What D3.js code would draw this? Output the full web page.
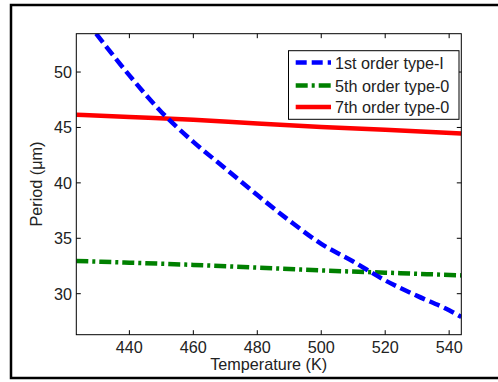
<!DOCTYPE html>
<html><head><meta charset="utf-8">
<script src="https://cdn.jsdelivr.net/npm/d3@7"></script>
<style>body{margin:0;background:#fff}svg{display:block}text{font-family:"Liberation Sans",Arial,sans-serif;fill:#222}</style>
</head><body>
<svg id="c" width="498" height="382"></svg>
<script>
const seriesNames = ["1st order type-I", "5th order type-0", "7th order type-0"];
const tempBlue = [429.6, 440, 450, 460, 470, 480, 490, 500, 510, 520, 530, 540, 543.8];
const periodBlue = [53.46, 49.7, 46.4, 43.7, 41.3, 38.9, 36.6, 34.5, 32.9, 31.2, 29.8, 28.5, 27.9];
const tempGreen = [423.4, 440, 460, 480, 500, 520, 543.8];
const periodGreen = [32.95, 32.8, 32.6, 32.35, 32.1, 31.9, 31.65];
const tempRed = [423.4, 440, 460, 480, 500, 520, 543.8];
const periodRed = [46.15, 45.95, 45.7, 45.35, 45.05, 44.8, 44.45];
const xTicks = [440, 460, 480, 500, 520, 540];
const yTicks = [30, 35, 40, 45, 50];

const svg = d3.select("#c");
const L = 76.3, R = 461.3, T = 33.7, B = 334.7;
const FS = 16.2;
const x = d3.scaleLinear().domain([423.4, 543.8]).range([L, R]);
const y = d3.scaleLinear().domain([26.3, 53.46]).range([B, T]);

// outer frame
svg.append("rect").attr("x", 11).attr("y", 5).attr("width", 500).attr("height", 373)
  .attr("fill", "none").attr("stroke", "#000").attr("stroke-width", 2.5);

const clip = svg.append("defs").append("clipPath").attr("id", "pc");
clip.append("rect").attr("x", L).attr("y", T).attr("width", R - L).attr("height", B - T);

const line = d3.line().x(d => x(d[0])).y(d => y(d[1])).curve(d3.curveMonotoneX);
const g = svg.append("g").attr("clip-path", "url(#pc)");
const series = [
  {t: tempRed, p: periodRed, color: "#ff0000", dash: null},
  {t: tempGreen, p: periodGreen, color: "#008000", dash: "12,4,3,4"},
  {t: tempBlue, p: periodBlue, color: "#0000ff", dash: "11,5"}
];
series.forEach(s => {
  g.append("path").datum(s.t.map((t, i) => [t, s.p[i]]))
    .attr("d", line).attr("fill", "none").attr("stroke", s.color)
    .attr("stroke-width", 4.5).attr("stroke-dasharray", s.dash);
});

// axes with inward ticks on all sides
const ax = svg.append("g").attr("stroke", "#000").attr("stroke-width", 1);
ax.append("rect").attr("x", L).attr("y", T).attr("width", R - L).attr("height", B - T).attr("fill", "none");
xTicks.forEach(v => {
  ax.append("line").attr("x1", x(v)).attr("x2", x(v)).attr("y1", B).attr("y2", B - 4.5);
  ax.append("line").attr("x1", x(v)).attr("x2", x(v)).attr("y1", T).attr("y2", T + 4.5);
  svg.append("text").attr("x", x(v)).attr("y", 352.5).attr("text-anchor", "middle")
    .attr("font-size", FS).text(v);
});
yTicks.forEach(v => {
  ax.append("line").attr("x1", L).attr("x2", L + 4.5).attr("y1", y(v)).attr("y2", y(v));
  ax.append("line").attr("x1", R).attr("x2", R - 4.5).attr("y1", y(v)).attr("y2", y(v));
  svg.append("text").attr("x", 72).attr("y", y(v) + 6).attr("text-anchor", "end")
    .attr("font-size", FS).text(v);
});

svg.append("text").attr("x", 268.7).attr("y", 369.5).attr("text-anchor", "middle")
  .attr("font-size", FS).text("Temperature (K)");
svg.append("text").attr("transform", "translate(42,184) rotate(-90)").attr("text-anchor", "middle")
  .attr("font-size", FS).text("Period (μm)");

// legend
const lg = svg.append("g");
lg.append("rect").attr("x", 288.5).attr("y", 50.7).attr("width", 170.5).attr("height", 68.6)
  .attr("fill", "#fff").attr("stroke", "#000").attr("stroke-width", 1);
const legendOrder = [series[2], series[1], series[0]];
const rowsY = [62.5, 85.5, 107];
legendOrder.forEach((s, i) => {
  lg.append("line").attr("x1", 295.7).attr("x2", 331).attr("y1", rowsY[i]).attr("y2", rowsY[i])
    .attr("stroke", s.color).attr("stroke-width", 4.5).attr("stroke-dasharray", s.dash);
  lg.append("text").attr("x", 335).attr("y", rowsY[i] + 6).attr("font-size", FS).text(seriesNames[i]);
});
</script>
</body></html>
